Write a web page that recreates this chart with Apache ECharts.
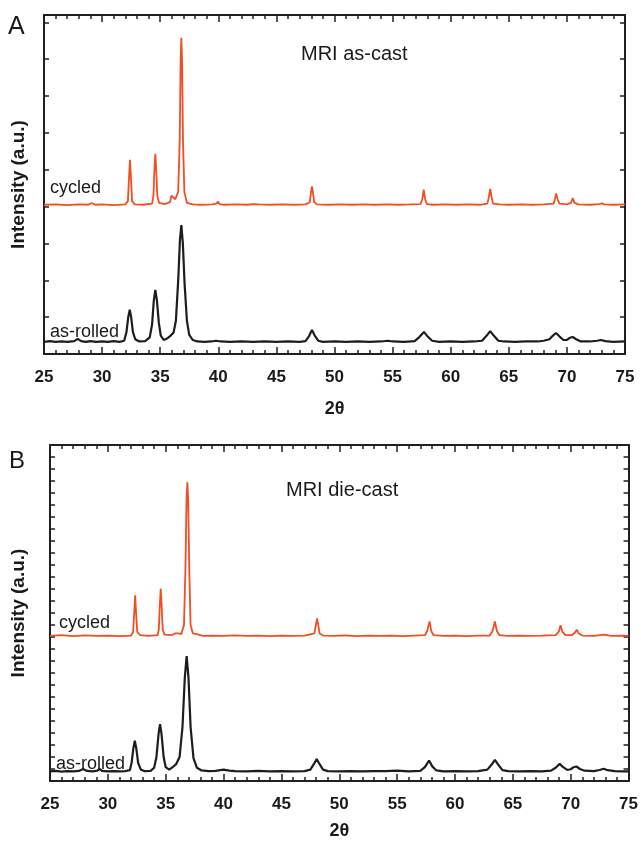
<!DOCTYPE html>
<html>
<head>
<meta charset="utf-8">
<script src="https://cdn.jsdelivr.net/npm/echarts@6/dist/echarts.min.js"></script>
<style>html,body{margin:0;padding:0;background:#fff}#c{width:641px;height:841px}</style>
</head>
<body>
<div id="c"></div>
<script>
// ---- Data ----
const xTicks = [25, 30, 35, 40, 45, 50, 55, 60, 65, 70, 75];
const panelLetters = ['A', 'B'];
const panelTitles = ['MRI as-cast', 'MRI die-cast'];
const seriesNames = ['cycled', 'as-rolled'];

// Panel A, as-rolled (black)
const asRolledA = [[25,0.33],[25.5,0.35],[26,0.33],[26.5,0.34],[27,0.33],[27.6,0.35],[27.9,0.41],[28.2,0.35],[28.6,0.33],[29,0.35],[29.5,0.33],[30,0.34],[30.5,0.33],[31,0.35],[31.5,0.33],[31.9,0.36],[32.1,0.6],[32.25,1.0],[32.38,1.2],[32.5,1.0],[32.65,0.6],[32.85,0.4],[33.2,0.34],[33.7,0.35],[34.1,0.45],[34.3,0.8],[34.45,1.45],[34.58,1.74],[34.72,1.45],[34.88,0.85],[35.05,0.5],[35.3,0.38],[35.6,0.42],[35.9,0.5],[36.15,0.58],[36.35,0.9],[36.55,2.0],[36.7,3.1],[36.82,3.5],[36.95,3.0],[37.1,1.9],[37.3,0.9],[37.5,0.52],[37.8,0.38],[38.2,0.34],[38.8,0.33],[39.4,0.34],[39.8,0.36],[40.2,0.34],[41,0.33],[42,0.34],[43,0.33],[44,0.34],[45,0.33],[46,0.34],[47,0.33],[47.5,0.35],[47.8,0.48],[48.06,0.65],[48.3,0.5],[48.6,0.36],[49,0.33],[50,0.34],[51,0.33],[52,0.34],[53,0.33],[54,0.34],[54.6,0.36],[55,0.34],[56,0.33],[56.9,0.35],[57.3,0.46],[57.7,0.6],[58.0,0.48],[58.4,0.36],[59,0.33],[60,0.34],[61,0.33],[62,0.34],[62.7,0.36],[63.1,0.5],[63.4,0.62],[63.7,0.5],[64.1,0.36],[64.6,0.34],[65.5,0.33],[66.5,0.34],[67.5,0.34],[68,0.36],[68.5,0.4],[68.8,0.5],[69.06,0.57],[69.35,0.48],[69.7,0.38],[70.0,0.38],[70.25,0.44],[70.5,0.46],[70.8,0.4],[71.2,0.34],[72,0.34],[72.6,0.36],[72.93,0.38],[73.3,0.35],[74,0.33],[75,0.34]];

// Panel A, cycled (orange)
const cycledA = [[25,4.05],[26,4.06],[27,4.04],[28,4.06],[28.8,4.05],[29.1,4.1],[29.4,4.05],[30,4.06],[31,4.04],[32,4.06],[32.22,4.15],[32.32,4.8],[32.4,5.27],[32.48,4.8],[32.58,4.15],[32.8,4.06],[33.5,4.05],[34.3,4.08],[34.42,4.3],[34.5,5.0],[34.58,5.43],[34.66,5.0],[34.75,4.3],[34.9,4.1],[35.4,4.07],[35.85,4.12],[35.96,4.3],[36.04,4.35],[36.13,4.25],[36.3,4.2],[36.55,4.4],[36.68,5.8],[36.76,8.0],[36.82,8.58],[36.88,8.0],[36.96,5.8],[37.08,4.4],[37.3,4.1],[37.8,4.06],[38.5,4.05],[39.5,4.06],[39.85,4.08],[39.97,4.14],[40.1,4.07],[40.5,4.05],[41.5,4.06],[42.5,4.05],[43,4.07],[43.5,4.06],[44.5,4.05],[45.5,4.06],[46.5,4.05],[47.5,4.06],[47.88,4.12],[47.98,4.4],[48.06,4.55],[48.14,4.4],[48.25,4.12],[48.5,4.06],[49.5,4.05],[50.5,4.06],[51.5,4.05],[52.5,4.06],[53.5,4.05],[54.5,4.06],[55.5,4.05],[56.5,4.06],[57.4,4.07],[57.55,4.2],[57.68,4.46],[57.8,4.2],[57.95,4.07],[58.5,4.05],[59.5,4.06],[60.5,4.05],[61.5,4.06],[62.5,4.05],[63.15,4.08],[63.28,4.25],[63.4,4.48],[63.52,4.25],[63.65,4.08],[64.2,4.06],[65,4.05],[66,4.06],[67,4.05],[68,4.06],[68.85,4.08],[68.97,4.2],[69.08,4.36],[69.2,4.2],[69.35,4.08],[70.0,4.06],[70.35,4.1],[70.5,4.23],[70.65,4.1],[71,4.06],[72,4.05],[72.8,4.07],[73,4.09],[73.2,4.06],[74,4.05],[75,4.06]];

// Panel B, as-rolled (black)
const asRolledB = [[25,0.8],[25.5,0.85],[26,0.78],[26.5,0.82],[27,0.8],[27.5,0.84],[27.86,1.0],[28.2,0.84],[28.7,0.8],[29.1,0.86],[29.3,1.0],[29.5,0.84],[30,0.8],[30.5,0.83],[31,0.8],[31.5,0.82],[31.9,0.9],[32.05,1.5],[32.2,2.7],[32.33,3.36],[32.46,2.7],[32.62,1.5],[32.85,0.95],[33.2,0.82],[33.7,0.84],[34.0,1.1],[34.2,2.0],[34.38,3.9],[34.51,4.74],[34.64,3.9],[34.82,2.0],[35.0,1.15],[35.3,0.95],[35.6,1.15],[35.92,1.43],[36.2,2.0],[36.45,4.5],[36.65,8.6],[36.81,10.4],[36.97,8.6],[37.15,4.5],[37.4,1.9],[37.7,1.1],[38.1,0.88],[38.7,0.82],[39.3,0.84],[40,0.95],[40.5,0.86],[41,0.82],[42,0.8],[43,0.84],[44,0.8],[45,0.82],[46,0.8],[47,0.82],[47.5,0.95],[47.8,1.4],[48.05,1.84],[48.3,1.4],[48.6,0.95],[49,0.82],[50,0.8],[51,0.82],[52,0.8],[53,0.83],[54,0.82],[55,0.86],[56,0.8],[57,0.84],[57.4,1.15],[57.76,1.71],[58.05,1.2],[58.4,0.88],[59,0.8],[60,0.82],[61,0.8],[62,0.82],[62.8,0.95],[63.15,1.35],[63.45,1.76],[63.75,1.35],[64.1,0.9],[64.6,0.82],[65.5,0.8],[66.5,0.82],[67.5,0.8],[68.3,0.86],[68.7,1.1],[69.05,1.43],[69.35,1.15],[69.7,0.92],[70.0,0.98],[70.25,1.15],[70.49,1.21],[70.8,1.0],[71.2,0.86],[72,0.82],[72.5,0.92],[72.84,1.02],[73.2,0.9],[73.8,0.82],[74.5,0.8],[75,0.8]];

// Panel B, cycled (orange)
const cycledB = [[25,12.1],[26,12.15],[27,12.08],[28,12.14],[29,12.1],[30,12.12],[31,12.08],[32,12.12],[32.18,12.4],[32.28,14.0],[32.36,15.48],[32.44,14.0],[32.54,12.4],[32.8,12.15],[33.5,12.1],[34.3,12.15],[34.4,12.6],[34.49,14.6],[34.57,16.03],[34.65,14.6],[34.74,12.6],[34.9,12.2],[35.5,12.15],[35.85,12.3],[35.97,12.45],[36.1,12.3],[36.35,12.25],[36.58,13.0],[36.7,17.5],[36.8,23.5],[36.87,24.9],[36.94,23.5],[37.04,17.5],[37.15,13.0],[37.35,12.3],[37.76,12.22],[38.2,12.1],[39,12.12],[40,12.1],[41,12.14],[42,12.1],[43,12.12],[44,12.08],[45,12.12],[46,12.1],[47,12.12],[47.85,12.3],[47.98,13.0],[48.08,13.55],[48.18,13.0],[48.3,12.3],[48.6,12.12],[49.5,12.1],[50.5,12.14],[51.5,12.08],[52.5,12.12],[53.5,12.1],[54.5,12.12],[55.5,12.08],[56.5,12.12],[57.4,12.15],[57.6,12.5],[57.8,13.3],[57.95,12.5],[58.15,12.15],[59,12.1],[60,12.12],[61,12.08],[62,12.12],[63,12.12],[63.25,12.5],[63.45,13.3],[63.62,12.5],[63.85,12.15],[64.5,12.1],[65.5,12.12],[66.5,12.1],[67.5,12.12],[68.7,12.15],[68.98,12.45],[69.12,12.98],[69.28,12.45],[69.55,12.15],[70.1,12.15],[70.35,12.35],[70.52,12.6],[70.7,12.3],[71,12.12],[72,12.1],[72.9,12.2],[73.5,12.1],[74.5,12.12],[75,12.1]];

// ---- Chart ----
const FONT = '"Liberation Sans", Arial, Helvetica, sans-serif';
const AX = '#231f20';
const ORANGE = '#f04e23';
const BLACK = '#1d1d1d';

const grids = [
  { left: 44, top: 15, right: 16, bottom: 487 },
  { left: 50, top: 445, right: 11, bottom: 57 }
];
const yMax = [9.2, 28];
const xNameGap = [46, 41];
const yNameGap = [16, 22];

function xAxisBottom(i) {
  return {
    type: 'value', gridIndex: i, position: 'bottom', min: xTicks[0], max: xTicks[xTicks.length - 1], interval: 5,
    axisLine: { show: true, onZero: false, lineStyle: { color: AX, width: 2 } },
    axisTick: { show: true, inside: true, length: 7, lineStyle: { color: AX, width: 1.5 } },
    minorTick: { show: true, splitNumber: 5, length: 4, lineStyle: { color: AX, width: 1.5 } },
    axisLabel: { show: true, inside: false, margin: 15, color: '#1a1a1a', fontFamily: FONT, fontWeight: 'bold', fontSize: 17 },
    splitLine: { show: false },
    name: '2θ', nameLocation: 'middle', nameGap: xNameGap[i],
    nameTextStyle: { fontFamily: FONT, fontWeight: 'bold', fontSize: 18, color: '#1a1a1a' }
  };
}
function xAxisTop(i) {
  return {
    type: 'value', gridIndex: i, position: 'top', min: xTicks[0], max: xTicks[xTicks.length - 1], interval: 5,
    axisLine: { show: true, onZero: false, lineStyle: { color: AX, width: 2 } },
    axisTick: { show: true, inside: true, length: 7, lineStyle: { color: AX, width: 1.5 } },
    minorTick: { show: true, splitNumber: 5, length: 4, lineStyle: { color: AX, width: 1.5 } },
    axisLabel: { show: false }, splitLine: { show: false }
  };
}
function yAxisLeft(i) {
  return {
    type: 'value', gridIndex: i, position: 'left', min: 0, max: yMax[i], interval: 1,
    axisLine: { show: true, onZero: false, lineStyle: { color: AX, width: 2 } },
    axisTick: { show: true, inside: true, length: 5, lineStyle: { color: AX, width: 1.5 } },
    axisLabel: { show: false }, splitLine: { show: false },
    name: 'Intensity (a.u.)', nameLocation: 'middle', nameGap: yNameGap[i],
    nameTextStyle: { fontFamily: FONT, fontWeight: 'bold', fontSize: 19, color: '#1a1a1a' }
  };
}
function yAxisRight(i) {
  return {
    type: 'value', gridIndex: i, position: 'right', min: 0, max: yMax[i], interval: 1,
    axisLine: { show: true, onZero: false, lineStyle: { color: AX, width: 2 } },
    axisTick: { show: true, inside: true, length: 5, lineStyle: { color: AX, width: 1.5 } },
    axisLabel: { show: false }, splitLine: { show: false }
  };
}
function lineSeries(name, data, xi, yi, color, width) {
  return {
    name, type: 'line', data, xAxisIndex: xi, yAxisIndex: yi,
    showSymbol: false, symbol: 'none', smooth: false, animation: false,
    lineStyle: { color, width }, z: color === ORANGE ? 3 : 2
  };
}
function txt(text, x, y, size, weight) {
  return {
    type: 'text', x, y, silent: true,
    style: { text, fill: '#1a1a1a', font: (weight || 'normal') + ' ' + size + 'px ' + FONT, align: 'left', verticalAlign: 'middle' }
  };
}

const option = {
  backgroundColor: '#ffffff',
  animation: false,
  grid: grids,
  xAxis: [xAxisBottom(0), xAxisTop(0), xAxisBottom(1), xAxisTop(1)],
  yAxis: [yAxisLeft(0), yAxisRight(0), yAxisLeft(1), yAxisRight(1)],
  series: [
    lineSeries(seriesNames[1], asRolledA, 0, 0, BLACK, 2.2),
    lineSeries(seriesNames[0], cycledA, 0, 0, ORANGE, 1.8),
    lineSeries(seriesNames[1], asRolledB, 2, 2, BLACK, 2.2),
    lineSeries(seriesNames[0], cycledB, 2, 2, ORANGE, 1.8)
  ],
  graphic: [
    txt(panelLetters[0], 8, 27, 25),
    txt(panelLetters[1], 9, 461, 24),
    txt(panelTitles[0], 301, 54, 20),
    txt(panelTitles[1], 286, 490, 20),
    txt(seriesNames[0], 50, 188, 18),
    txt(seriesNames[1], 50, 332, 18),
    txt(seriesNames[0], 59, 623, 18),
    txt(seriesNames[1], 56, 764, 18)
  ]
};

const chart = echarts.init(document.getElementById('c'), null, { renderer: 'canvas', width: 641, height: 841 });
chart.setOption(option);
</script>
</body>
</html>
